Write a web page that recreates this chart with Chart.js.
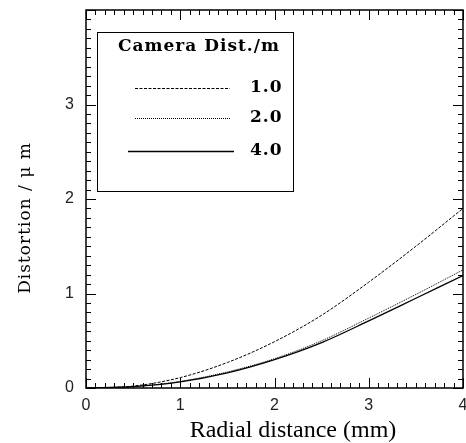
<!DOCTYPE html>
<html>
<head>
<meta charset="utf-8">
<script src="https://cdn.jsdelivr.net/npm/chart.js@4/dist/chart.umd.min.js"></script>
<style>
  body { margin: 0; background: #fff; }
  canvas { display: block; }
</style>
</head>
<body>
<canvas id="chart" width="466" height="443"></canvas>
<script>
// Valeurs (distorsion en micron vs distance radiale en mm)
const radial = [0, 0.5, 1, 1.5, 2, 2.5, 3, 3.5, 4];
const dist1m = [0, 0.02, 0.11, 0.27, 0.49, 0.77, 1.12, 1.50, 1.90];
const dist2m = [0, 0.015, 0.07, 0.17, 0.31, 0.50, 0.74, 0.99, 1.25];
const dist4m = [0, 0.015, 0.065, 0.16, 0.30, 0.48, 0.71, 0.95, 1.19];

const seriesLabels = ['1.0', '2.0', '4.0'];
const legendTitle = 'Camera Dist./m';
const xTickLabels = [0, 1, 2, 3, 4];
const yTickLabels = [0, 1, 2, 3];
const xTitle = 'Radial distance (mm)';
const yTitle = 'Distortion / \u03bc m';

function points(ys) {
    return radial.map((x, i) => ({ x: x, y: ys[i] }));
}

const dashes = [[3, 1.5], [1, 1], []];
const widths = [1, 1, 1.3];

// Ticks vers l'intérieur sur les quatre côtés + cadre + titres + légende
const framePlugin = {
    id: 'frame',
    afterDraw(chart) {
        const ctx = chart.ctx;
        const a = chart.chartArea;
        const xs = chart.scales.x;
        const ys = chart.scales.y;
        ctx.save();
        ctx.strokeStyle = '#000';
        ctx.lineWidth = 1;
        for (let i = 0; i <= 40; i++) {
            const v = i / 10;
            const len = (i % 10 === 0) ? 10 : 5;
            const px = Math.round(xs.getPixelForValue(v)) + 0.5;
            const py = Math.round(ys.getPixelForValue(v)) + 0.5;
            ctx.beginPath();
            ctx.moveTo(px, a.bottom); ctx.lineTo(px, a.bottom - len);
            ctx.moveTo(px, a.top); ctx.lineTo(px, a.top + len);
            ctx.moveTo(a.left, py); ctx.lineTo(a.left + len, py);
            ctx.moveTo(a.right, py); ctx.lineTo(a.right - len, py);
            ctx.stroke();
        }
        ctx.lineWidth = 1.5;
        ctx.strokeRect(a.left, a.top, a.right - a.left, a.bottom - a.top);

        // titres des axes
        ctx.fillStyle = '#000';
        ctx.font = '24px "Liberation Serif", "Times New Roman", serif';
        ctx.textAlign = 'center';
        ctx.textBaseline = 'alphabetic';
        ctx.fillText(xTitle, 293, 437);

        ctx.save();
        ctx.translate(30, 218);
        ctx.rotate(-Math.PI / 2);
        ctx.font = '17px "DejaVu Serif", serif';
        ctx.letterSpacing = '1px';
        ctx.fillText(yTitle, 0, 0);
        ctx.restore();

        // légende
        ctx.lineWidth = 1;
        ctx.strokeRect(97.5, 32.5, 196, 159);
        ctx.font = 'bold 17px "DejaVu Serif", serif';
        ctx.letterSpacing = '1px';
        ctx.textAlign = 'left';
        ctx.textBaseline = 'middle';
        ctx.fillText(legendTitle, 118, 47);
        const rowsY = [88, 118, 151];
        chart.data.datasets.forEach((ds, i) => {
            const y = rowsY[i] + 0.5;
            ctx.setLineDash(ds.borderDash || []);
            ctx.lineWidth = ds.borderWidth;
            ctx.beginPath();
            if (i === 2) { ctx.moveTo(128, y); ctx.lineTo(234, y); }
            else { ctx.moveTo(135, y); ctx.lineTo(230, y); }
            ctx.stroke();
            ctx.setLineDash([]);
            ctx.fillText(ds.label, 250, rowsY[i]);
        });
        ctx.restore();
    }
};

const datasets = [dist1m, dist2m, dist4m].map((ys, i) => ({
    label: seriesLabels[i],
    data: points(ys),
    showLine: true,
    borderColor: '#000',
    borderWidth: widths[i],
    borderDash: dashes[i],
    pointRadius: 0,
    fill: false,
    cubicInterpolationMode: 'monotone'
}));

new Chart(document.getElementById('chart'), {
    type: 'scatter',
    data: { datasets: datasets },
    options: {
        responsive: false,
        animation: false,
        devicePixelRatio: 1,
        layout: { padding: { top: 10, right: 3, left: 0, bottom: 0 } },
        plugins: { legend: { display: false }, tooltip: { enabled: false } },
        scales: {
            x: {
                type: 'linear', min: 0, max: 4,
                grid: { display: false, drawTicks: false },
                border: { display: false },
                ticks: {
                    stepSize: 1, padding: 8, color: '#222',
                    font: { family: '"Liberation Sans", Arial, sans-serif', size: 16 },
                    callback: v => xTickLabels.includes(v) ? String(v) : ''
                },
                afterFit: s => { s.height = 55; s.paddingLeft = 0; s.paddingRight = 0; }
            },
            y: {
                type: 'linear', min: 0, max: 4,
                grid: { display: false, drawTicks: false },
                border: { display: false },
                ticks: {
                    stepSize: 1, padding: 12, color: '#222',
                    font: { family: '"Liberation Sans", Arial, sans-serif', size: 16 },
                    callback: v => yTickLabels.includes(v) ? String(v) : ''
                },
                afterFit: s => { s.width = 86; s.paddingTop = 0; s.paddingBottom = 0; }
            }
        }
    },
    plugins: [framePlugin]
});
</script>
</body>
</html>
